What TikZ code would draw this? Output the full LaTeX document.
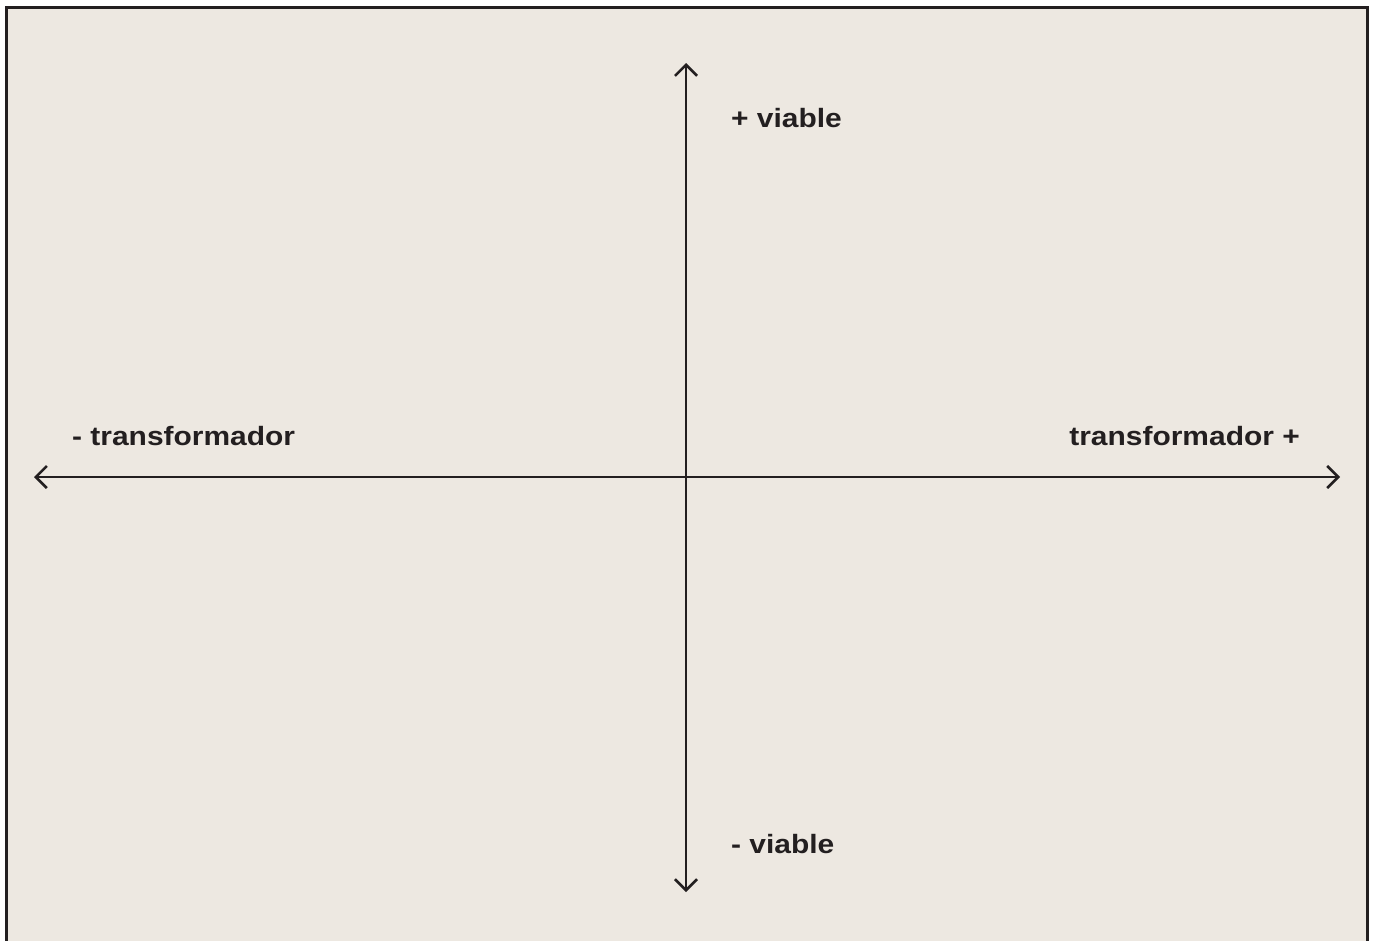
\documentclass[tikz,border=0pt]{standalone}
\usepackage{fontspec}
\setmainfont{Liberation Sans}[FakeStretch=1.13]
\usepackage{tikz}
\usetikzlibrary{arrows.meta, positioning}

\definecolor{paper}{HTML}{EDE8E1}
\definecolor{ink}{HTML}{231F20}

\begin{document}
\begin{tikzpicture}[x=1pt, y=-1pt,
        axis/.style={draw=ink, line width=2.6pt, {Straight Barb[length=11pt, width=22pt]}-{Straight Barb[length=11pt, width=22pt]}},
        lbl/.style={inner sep=0pt, text=ink, font=\fontsize{26.5}{30}\selectfont\bfseries}]
            \useasboundingbox (0,0) rectangle (1376,940);
            \fill[white] (0,0) rectangle (1376,940);
            \draw[ink, fill=paper, line width=3.4pt] (6.6,7.6) rectangle (1367.6,960);
            % axes
            \coordinate (top) at (686,63);
            \coordinate (bottom) at (686,892);
            \coordinate (left) at (34,477);
            \coordinate (right) at (1340,477);
            \draw[axis] (bottom) -- (top);
            \draw[axis] (left) -- (right);
            % labels
            \node[lbl, anchor=base west] (vplus) at (731,127) {+ viable};
            \node[lbl, anchor=base west] (vminus) at (731,853) {- viable};
            \node[lbl, anchor=base west] (tminus) at (72,445) {- transformador};
            \node[lbl, anchor=base east] (tplus) at (1300,445) {transformador +};
        \end{tikzpicture}
\end{document}
